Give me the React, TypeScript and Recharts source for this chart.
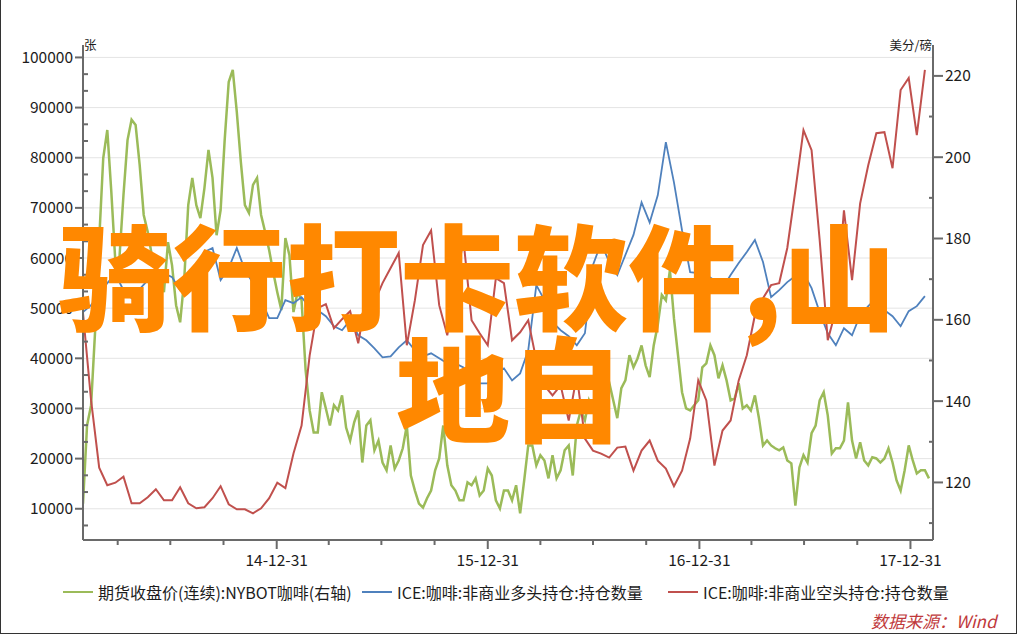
import React from 'react';
import { LineChart, Line, XAxis, YAxis, CartesianGrid } from 'recharts';

// series start date and sampling steps (days)
const startDate = '2014-01-30';
const priceStepDays = 7;
const positionStepDays = 14;

// x axis: quarter ends, labels only at year ends
const quarterEnds = [
  '2014-03-31', '2014-06-30', '2014-09-30', '2014-12-31',
  '2015-03-31', '2015-06-30', '2015-09-30', '2015-12-31',
  '2016-03-31', '2016-06-30', '2016-09-30', '2016-12-31',
  '2017-03-31', '2017-06-30', '2017-09-30', '2017-12-31',
];
const yearEndLabels = ['14-12-31', '15-12-31', '16-12-31', '17-12-31'];

// y axes
const leftMajorTicks = [10000, 20000, 30000, 40000, 50000, 60000, 70000, 80000, 90000, 100000];
const rightMajorTicks = [120, 140, 160, 180, 200, 220];
const rightMinorTicks = [110, 130, 150, 170, 190, 210];

// 期货收盘价(连续):NYBOT咖啡 (美分/磅), weekly
const coffeePrice = [
  114.8, 134.0, 139.0, 157.4, 179.6, 199.8, 206.7, 191.4, 174.2, 175.2,
  190.7, 204.2, 209.2, 207.9, 198.1, 185.8, 181.6, 175.9, 172.7, 171.7,
  166.8, 179.1, 173.4, 163.6, 159.4, 169.8, 188.2, 194.9, 188.2, 185.0,
  192.4, 201.8, 194.9, 180.8, 187.0, 204.2, 218.5, 221.5, 211.1, 198.8,
  188.2, 186.3, 193.2, 194.9, 185.8, 181.6, 177.1, 171.7, 166.8, 162.4,
  180.1, 175.9, 161.9, 166.8, 164.8, 147.6, 137.7, 132.3, 132.3,
  142.2, 138.2, 134.0, 139.0, 137.7, 141.4, 133.5, 130.3, 134.8, 137.7,
  124.9, 134.0, 135.3, 127.9, 130.3, 124.9, 123.0, 129.1, 123.4, 125.4,
  128.4, 134.0, 121.7, 118.0, 114.8, 113.8, 116.1, 118.0, 123.0, 125.9,
  134.0, 124.2, 119.3, 118.0, 115.6, 115.6, 120.0, 119.3, 121.0, 116.8,
  118.0, 123.4, 121.7, 115.6, 113.6, 118.0, 118.0, 115.6, 119.3,
  112.4, 120.5, 129.1, 129.1, 124.2, 126.7, 125.4, 121.0, 126.7, 121.0,
  123.0, 127.9, 129.1, 121.7, 134.0, 137.7, 135.3, 140.2, 137.7, 141.4,
  143.2, 144.6, 144.6, 140.2, 135.8, 143.2, 145.1, 151.3, 148.3, 150.5,
  153.7, 148.8, 145.9, 153.7, 158.7, 166.1, 164.8, 172.2, 160.4, 151.3,
  142.2, 138.2, 137.7, 139.0, 140.2, 148.3, 149.3, 153.7, 151.3, 145.6,
  148.8, 145.1, 140.2, 140.7, 144.4, 138.2, 139.0, 137.7, 141.4,
  135.8, 129.1, 130.3, 129.1, 128.4, 127.9, 128.6, 125.4, 124.7, 114.3,
  123.7, 126.7, 124.9, 132.1, 134.0, 140.2, 142.2, 136.5, 127.1, 128.4,
  128.4, 130.3, 139.7, 130.3, 125.9, 129.9, 125.4, 124.2, 126.2, 125.9,
  124.9, 125.9, 128.4, 124.9, 120.5, 118.0, 123.0, 129.1, 125.4, 122.2,
  123.0, 123.0, 121.0,
];

// ICE:咖啡:非商业多头持仓:持仓数量 (张), every two weeks
const longPositions = [
  49200, 50600, 52600, 55000, 56800, 53600, 52000, 53800, 55600, 56800,
  57000, 56200, 53600, 54800, 58600, 61200, 62000, 55600, 58000, 62000,
  57600, 55000, 51600, 48000, 48000, 51600, 51000, 52200, 50200, 49600,
  48400, 46400, 45600, 47600, 44600, 43600, 42000, 40200, 40400, 42200,
  43600, 41600, 40400, 41000, 40000, 39000, 39000, 38200, 36000, 35000,
  35000, 37200, 38000, 35600, 37000, 41600, 54600, 51600, 47200, 45600,
  44400, 42600, 45000, 58600, 63000, 59200, 56600, 60600, 64600, 71100,
  67100, 72500, 83100, 75100, 65500, 57200, 57000, 56600, 55600, 54000,
  56600, 59000, 61200, 63600, 59200, 52200, 53600, 55200, 56400, 57000,
  54000, 49200, 45000, 42600, 46000, 44600, 48600, 50400, 52000, 49600,
  48400, 46400, 49400, 50400, 52400,
];

// ICE:咖啡:非商业空头持仓:持仓数量 (张), every two weeks
const shortPositions = [
  49000, 31600, 18200, 14700, 15200, 16400, 11100, 11100, 12300, 13900,
  11700, 11700, 14300, 11100, 10100, 10300, 12100, 14500, 10900, 9900,
  9900, 9100, 10100, 12100, 15200, 14100, 21000, 26600, 40600, 50000,
  50800, 46000, 47800, 49400, 43000, 52200, 51200, 55000, 58000, 61000,
  42600, 51600, 62600, 65500, 50600, 44600, 54600, 63600, 47600, 45000,
  42600, 56000, 55000, 43600, 45200, 47600, 39600, 34600, 32600, 34600,
  27600, 36600, 24000, 21600, 21000, 20200, 22200, 22400, 17600, 21600,
  23600, 19600, 18000, 14500, 17600, 24000, 35600, 31600, 18600, 25600,
  27600, 35600, 40600, 48600, 52000, 54600, 55000, 62000, 73500, 85500,
  81500, 63600, 43600, 49600, 69500, 55600, 70900, 78500, 84900, 85100,
  77900, 93500, 95900, 84500, 97500,
];

const legendNames = [
  '期货收盘价(连续):NYBOT咖啡(右轴)',
  'ICE:咖啡:非商业多头持仓:持仓数量',
  'ICE:咖啡:非商业空头持仓:持仓数量',
];

const GREEN = '#9BBB59';
const BLUE = '#4F81BD';
const RED = '#C0504D';
const AXIS = '#6a6a6a';
const TEXT = '#1c1c1c';
const FONT = '"Noto Sans CJK SC", "Noto Sans", sans-serif';
const DAY = 86400000;

const toDay = (s: string) => (Date.parse(s) - Date.parse(startDate)) / DAY;

const priceData = coffeePrice.map((v, i) => ({ day: i * priceStepDays, price: v }));
const longData = longPositions.map((v, i) => ({ day: i * positionStepDays, value: v }));
const shortData = shortPositions.map((v, i) => ({ day: i * positionStepDays, value: v }));

const xTicks = quarterEnds.map(toDay);
const xLabelByDay = new Map<number, string>();
quarterEnds.forEach((d) => {
  if (d.endsWith('12-31')) xLabelByDay.set(toDay(d), yearEndLabels[Number(d.slice(2, 4)) - 14]);
});

const leftTicks: number[] = [leftMajorTicks[0] - 10000 / 3];
leftMajorTicks.forEach((m, i) => {
  leftTicks.push(m);
  if (i < leftMajorTicks.length - 1) leftTicks.push(m + 10000 / 3, m + 20000 / 3);
});
const rightTicks = [...rightMinorTicks, ...rightMajorTicks].sort((a, b) => a - b);

const tickText = { fontFamily: FONT, fontSize: 15.5, fill: TEXT };

function LeftTick(props: any) {
  const { x, y, payload } = props;
  const v = payload.value;
  if (leftMajorTicks.includes(v)) {
    return (
      <g>
        <line x1={x - 8} x2={x} y1={y} y2={y} stroke={AXIS} strokeWidth={2} />
        <text x={x - 10} y={y} dy="0.36em" textAnchor="end" {...tickText}>{v}</text>
      </g>
    );
  }
  return <line x1={x} x2={x + 5} y1={y} y2={y} stroke={AXIS} strokeWidth={2} />;
}

function RightTick(props: any) {
  const { x, y, payload } = props;
  const v = payload.value;
  if (rightMajorTicks.includes(v)) {
    return (
      <g>
        <line x1={x} x2={x + 10} y1={y} y2={y} stroke={AXIS} strokeWidth={2} />
        <text x={x + 12} y={y} dy="0.36em" textAnchor="start" {...tickText}>{v}</text>
      </g>
    );
  }
  return <line x1={x - 4} x2={x} y1={y} y2={y} stroke={AXIS} strokeWidth={2} />;
}

function BottomTick(props: any) {
  const { x, y, payload } = props;
  const label = xLabelByDay.get(payload.value);
  return (
    <g>
      <line x1={x} x2={x} y1={y} y2={y + (label ? 9 : 5)} stroke={AXIS} strokeWidth={2} />
      {label && (
        <text x={x} y={y + 20} dy="0.36em" textAnchor="middle" {...tickText}>{label}</text>
      )}
    </g>
  );
}

export default function App() {
  const legendColors = [GREEN, BLUE, RED];
  const legendLeft = [63, 362, 668];
  return (
    <div style={{ position: 'absolute', left: 0, top: 0, width: 1018, height: 635, background: '#fff', fontFamily: FONT, color: TEXT }}>
      <LineChart width={1018} height={635} margin={{ top: 45, right: 0, bottom: 65, left: 0 }}>
        <CartesianGrid yAxisId="left" vertical={false} horizontalValues={leftMajorTicks} stroke="#e4e4e4" strokeWidth={1} />
        <XAxis
          dataKey="day"
          type="number"
          domain={[0, 1470]}
          allowDataOverflow
          ticks={xTicks}
          interval={0}
          height={30}
          tickSize={0}
          tickMargin={0}
          tickLine={false}
          tick={<BottomTick />}
          axisLine={{ stroke: AXIS, strokeWidth: 2 }}
        />
        <YAxis
          yAxisId="left"
          orientation="left"
          width={83}
          domain={[3770, 102480]}
          allowDataOverflow
          ticks={leftTicks}
          interval={0}
          tickSize={0}
          tickMargin={0}
          tickLine={false}
          tick={<LeftTick />}
          axisLine={{ stroke: AXIS, strokeWidth: 2 }}
        />
        <YAxis
          yAxisId="right"
          orientation="right"
          width={85}
          domain={[105.84, 227.6]}
          allowDataOverflow
          ticks={rightTicks}
          interval={0}
          tickSize={0}
          tickMargin={0}
          tickLine={false}
          tick={<RightTick />}
          axisLine={{ stroke: AXIS, strokeWidth: 2 }}
        />
        <Line yAxisId="right" data={priceData} dataKey="price" stroke={GREEN} strokeWidth={2.5} dot={false} isAnimationActive={false} />
        <Line yAxisId="left" data={longData} dataKey="value" stroke={BLUE} strokeWidth={1.8} dot={false} isAnimationActive={false} />
        <Line yAxisId="left" data={shortData} dataKey="value" stroke={RED} strokeWidth={2} dot={false} isAnimationActive={false} />
      </LineChart>

      <div style={{ position: 'absolute', left: 84, top: 37, fontSize: 12.5, lineHeight: '16px' }}>张</div>
      <div style={{ position: 'absolute', right: 86, top: 37, fontSize: 12.5, lineHeight: '16px' }}>美分/磅</div>

      {legendNames.map((name, i) => (
        <div key={name} style={{ position: 'absolute', left: legendLeft[i], top: 582, display: 'flex', alignItems: 'center', fontSize: 16, lineHeight: '20px', whiteSpace: 'nowrap' }}>
          <span style={{ display: 'inline-block', width: 30, height: 2, background: legendColors[i], marginRight: 5 }} />
          <span>{name}</span>
        </div>
      ))}

      <div style={{ position: 'absolute', left: 871, top: 610, fontSize: 17, lineHeight: '22px', fontStyle: 'italic', color: '#C0393B', whiteSpace: 'nowrap' }}>
        数据来源：Wind
      </div>

      <svg width={1018} height={635} style={{ position: 'absolute', left: 0, top: 0, pointerEvents: 'none' }}>
        <text x={58} y={321} fontFamily={FONT} fontSize={114} fontWeight={900} fill="#FF8800">骑行打卡软件,山</text>
        <text x={396} y={433} fontFamily={FONT} fontSize={114} fontWeight={900} fill="#FF8800">地自</text>
      </svg>

      <div style={{ position: 'absolute', left: 0, top: 0, width: 1017, height: 634, boxSizing: 'border-box', borderLeft: '1.5px solid #333', borderRight: '1.5px solid #333', borderBottom: '1.5px solid #333', pointerEvents: 'none' }} />
    </div>
  );
}
